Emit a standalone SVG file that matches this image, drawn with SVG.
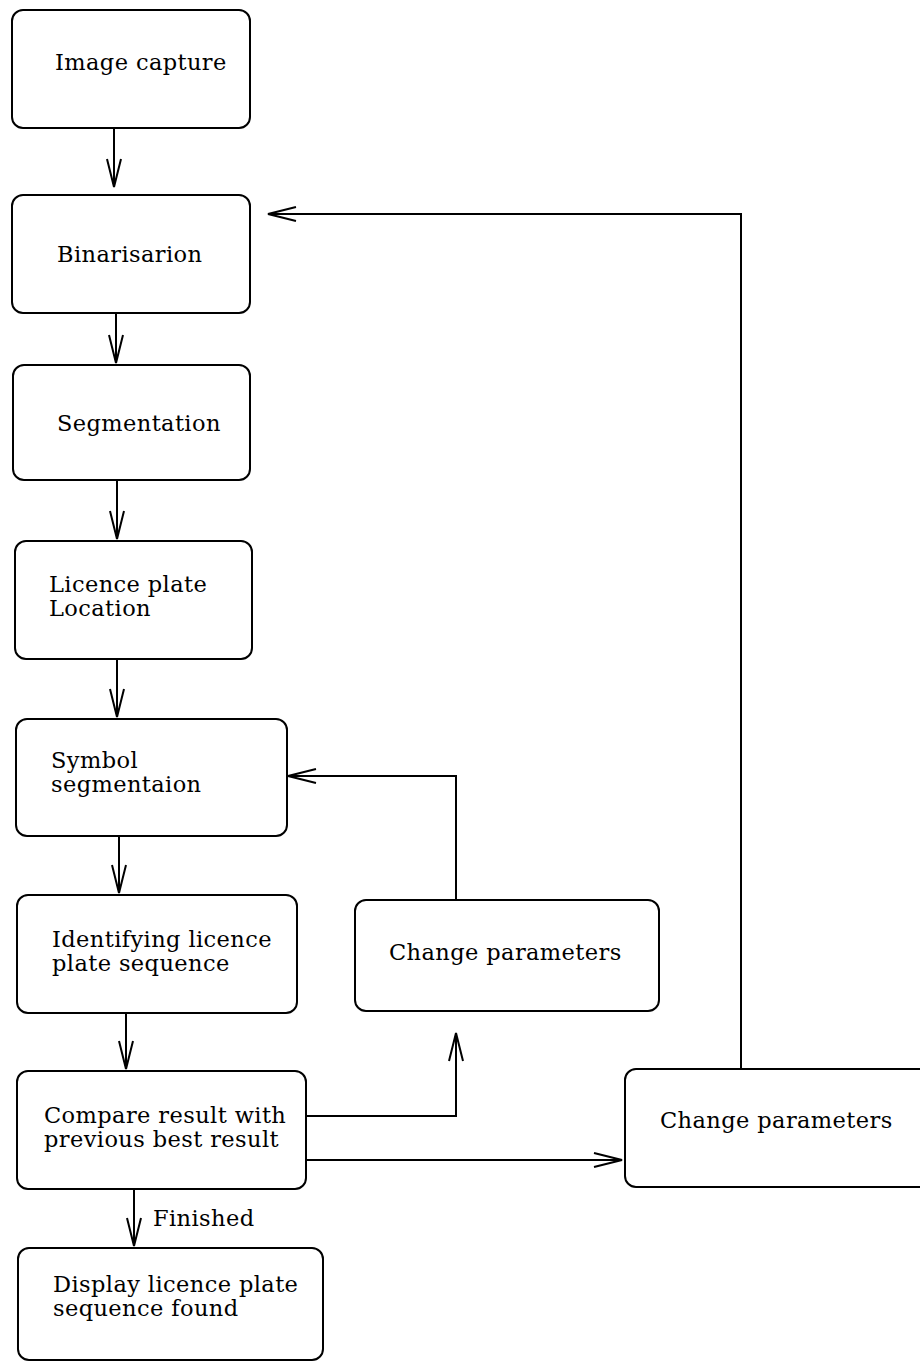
<svg xmlns="http://www.w3.org/2000/svg" width="920" height="1363" viewBox="0 0 920 1363">
  <defs>
    <style>
      .box { fill: #ffffff; stroke: #000000; stroke-width: 2; }
      .wire { fill: none; stroke: #000000; stroke-width: 2; }
      .lbl { font-family: "DejaVu Serif", "Liberation Serif", serif; font-size: 22.5px; letter-spacing: 0.4px; fill: #000000; }
    </style>
    <marker id="head" viewBox="0 0 30 16" refX="29" refY="8" markerWidth="30" markerHeight="16" markerUnits="userSpaceOnUse" orient="auto">
      <path d="M1,1 L29,8 L1,15" fill="none" stroke="#000000" stroke-width="2"/>
    </marker>
  </defs>
  <rect width="920" height="1363" fill="#ffffff"/>

  <!-- flow connectors -->
  <g id="connectors">
    <line class="wire" x1="114" y1="128" x2="114" y2="187" marker-end="url(#head)"/>
    <line class="wire" x1="116" y1="313" x2="116" y2="363" marker-end="url(#head)"/>
    <line class="wire" x1="117" y1="480" x2="117" y2="539" marker-end="url(#head)"/>
    <line class="wire" x1="117" y1="659" x2="117" y2="717" marker-end="url(#head)"/>
    <line class="wire" x1="119" y1="836" x2="119" y2="893" marker-end="url(#head)"/>
    <line class="wire" x1="126" y1="1013" x2="126" y2="1069" marker-end="url(#head)"/>
    <line class="wire" x1="134" y1="1189" x2="134" y2="1246" marker-end="url(#head)"/>
    <!-- retry loops -->
    <polyline class="wire" points="306,1116 456,1116 456,1033" marker-end="url(#head)"/>
    <polyline class="wire" points="456,900 456,776 288,776" marker-end="url(#head)"/>
    <line class="wire" x1="306" y1="1160" x2="622" y2="1160" marker-end="url(#head)"/>
    <polyline class="wire" points="741,1068 741,214 268,214" marker-end="url(#head)"/>
    <text class="lbl" x="153" y="1226">Finished</text>
  </g>

  <g id="image-capture">
    <rect class="box" x="12" y="10" width="238" height="118" rx="11"/>
    <text class="lbl" x="55" y="70">Image capture</text>
  </g>
  <g id="binarisation">
    <rect class="box" x="12" y="195" width="238" height="118" rx="11"/>
    <text class="lbl" x="57" y="262">Binarisarion</text>
  </g>
  <g id="segmentation">
    <rect class="box" x="13" y="365" width="237" height="115" rx="11"/>
    <text class="lbl" x="57" y="431">Segmentation</text>
  </g>
  <g id="plate-location">
    <rect class="box" x="15" y="541" width="237" height="118" rx="11"/>
    <text class="lbl" x="49" y="592">Licence plate</text>
    <text class="lbl" x="49" y="616">Location</text>
  </g>
  <g id="symbol-segmentation">
    <rect class="box" x="16" y="719" width="271" height="117" rx="11"/>
    <text class="lbl" x="51" y="768">Symbol</text>
    <text class="lbl" x="51" y="792">segmentaion</text>
  </g>
  <g id="identify-sequence">
    <rect class="box" x="17" y="895" width="280" height="118" rx="11"/>
    <text class="lbl" x="52" y="947">Identifying licence</text>
    <text class="lbl" x="52" y="971">plate sequence</text>
  </g>
  <g id="compare-result">
    <rect class="box" x="17" y="1071" width="289" height="118" rx="11"/>
    <text class="lbl" x="44" y="1123">Compare result with</text>
    <text class="lbl" x="44" y="1147">previous best result</text>
  </g>
  <g id="display-result">
    <rect class="box" x="18" y="1248" width="305" height="112" rx="11"/>
    <text class="lbl" x="53" y="1292">Display licence plate</text>
    <text class="lbl" x="53" y="1316">sequence found</text>
  </g>
  <g id="change-params-symbol">
    <rect class="box" x="355" y="900" width="304" height="111" rx="11"/>
    <text class="lbl" x="389" y="960">Change parameters</text>
  </g>
  <g id="change-params-binarisation">
    <rect class="box" x="625" y="1069" width="320" height="118" rx="11"/>
    <text class="lbl" x="660" y="1128">Change parameters</text>
  </g>
</svg>
